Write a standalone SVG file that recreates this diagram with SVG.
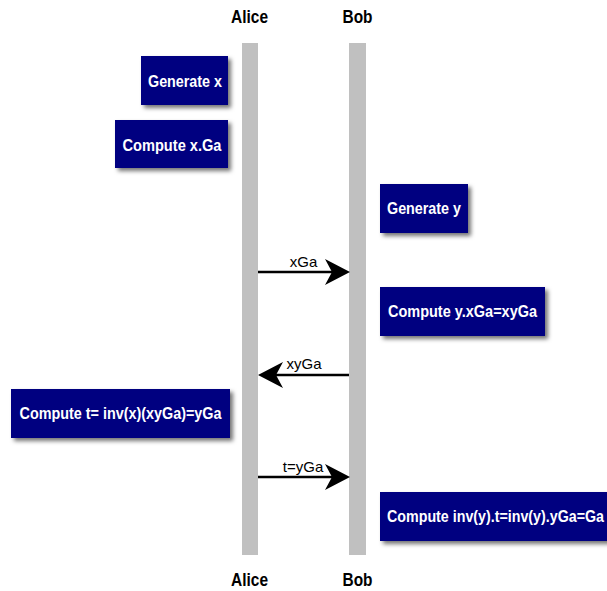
<svg xmlns="http://www.w3.org/2000/svg" width="607" height="591" viewBox="0 0 607 591">
<style>
.hdr{font-family:"Liberation Sans",Arial,sans-serif;font-weight:bold;font-size:18px;fill:#000;text-anchor:middle}
.lbl{font-family:"Liberation Sans",Arial,sans-serif;font-weight:bold;font-size:16px;fill:#fff;text-anchor:middle}
.msg{font-family:"Liberation Sans",Arial,sans-serif;font-size:15px;fill:#000;text-anchor:middle}
.box{fill:#000080;filter:url(#sh)}
.life{fill:#c0c0c0}
.ln{stroke:#000;stroke-width:2.5;fill:none}
.head{fill:#000}
</style>
<defs>
<filter id="sh" x="-10%" y="-20%" width="130%" height="150%">
<feDropShadow dx="3" dy="3" stdDeviation="2" flood-color="#000" flood-opacity="0.55"/>
</filter>
</defs>
<rect width="607" height="591" fill="#fff"/>
<g id="alice">
<text class="hdr" x="249.5" y="23" textLength="37" lengthAdjust="spacingAndGlyphs">Alice</text>
<rect class="life" x="242" y="43" width="16" height="512"/>
<text class="hdr" x="249.5" y="586" textLength="37" lengthAdjust="spacingAndGlyphs">Alice</text>
</g>
<g id="bob">
<text class="hdr" x="357.5" y="23" textLength="30" lengthAdjust="spacingAndGlyphs">Bob</text>
<rect class="life" x="349" y="43" width="17" height="512"/>
<text class="hdr" x="357.5" y="586" textLength="30" lengthAdjust="spacingAndGlyphs">Bob</text>
</g>
<g id="gen-x">
<rect class="box" x="141" y="56" width="87" height="49"/>
<text class="lbl" x="185" y="87" textLength="74" lengthAdjust="spacingAndGlyphs">Generate x</text>
</g>
<g id="comp-xga">
<rect class="box" x="115" y="120" width="113" height="48"/>
<text class="lbl" x="172" y="151" textLength="99" lengthAdjust="spacingAndGlyphs">Compute x.Ga</text>
</g>
<g id="gen-y">
<rect class="box" x="380" y="184" width="88" height="49"/>
<text class="lbl" x="424" y="214" textLength="74" lengthAdjust="spacingAndGlyphs">Generate y</text>
</g>
<g id="comp-xyga">
<rect class="box" x="380" y="287" width="165" height="49"/>
<text class="lbl" x="462.5" y="317" textLength="149" lengthAdjust="spacingAndGlyphs">Compute y.xGa=xyGa</text>
</g>
<g id="comp-t">
<rect class="box" x="11" y="389" width="219" height="49"/>
<text class="lbl" x="120.5" y="419" textLength="202" lengthAdjust="spacingAndGlyphs">Compute t= inv(x)(xyGa)=yGa</text>
</g>
<g id="comp-ga">
<rect class="box" x="380" y="492" width="235" height="49"/>
<text class="lbl" x="387" y="522" style="text-anchor:start" textLength="217" lengthAdjust="spacingAndGlyphs">Compute inv(y).t=inv(y).yGa=Ga</text>
</g>
<g id="connectors">
<line class="ln" x1="258" y1="272" x2="335" y2="272"/>
<path class="head" d="M350,272 L325,259 L332,272 L325,285 Z"/>
<text class="msg" x="303.5" y="267">xGa</text>
<line class="ln" x1="349" y1="375" x2="272" y2="375"/>
<path class="head" d="M258,375 L283,362 L276,375 L283,388 Z"/>
<text class="msg" x="304" y="369">xyGa</text>
<line class="ln" x1="258" y1="477" x2="335" y2="477"/>
<path class="head" d="M350,477 L325,464 L332,477 L325,490 Z"/>
<text class="msg" x="303" y="472">t=yGa</text>
</g>
</svg>
